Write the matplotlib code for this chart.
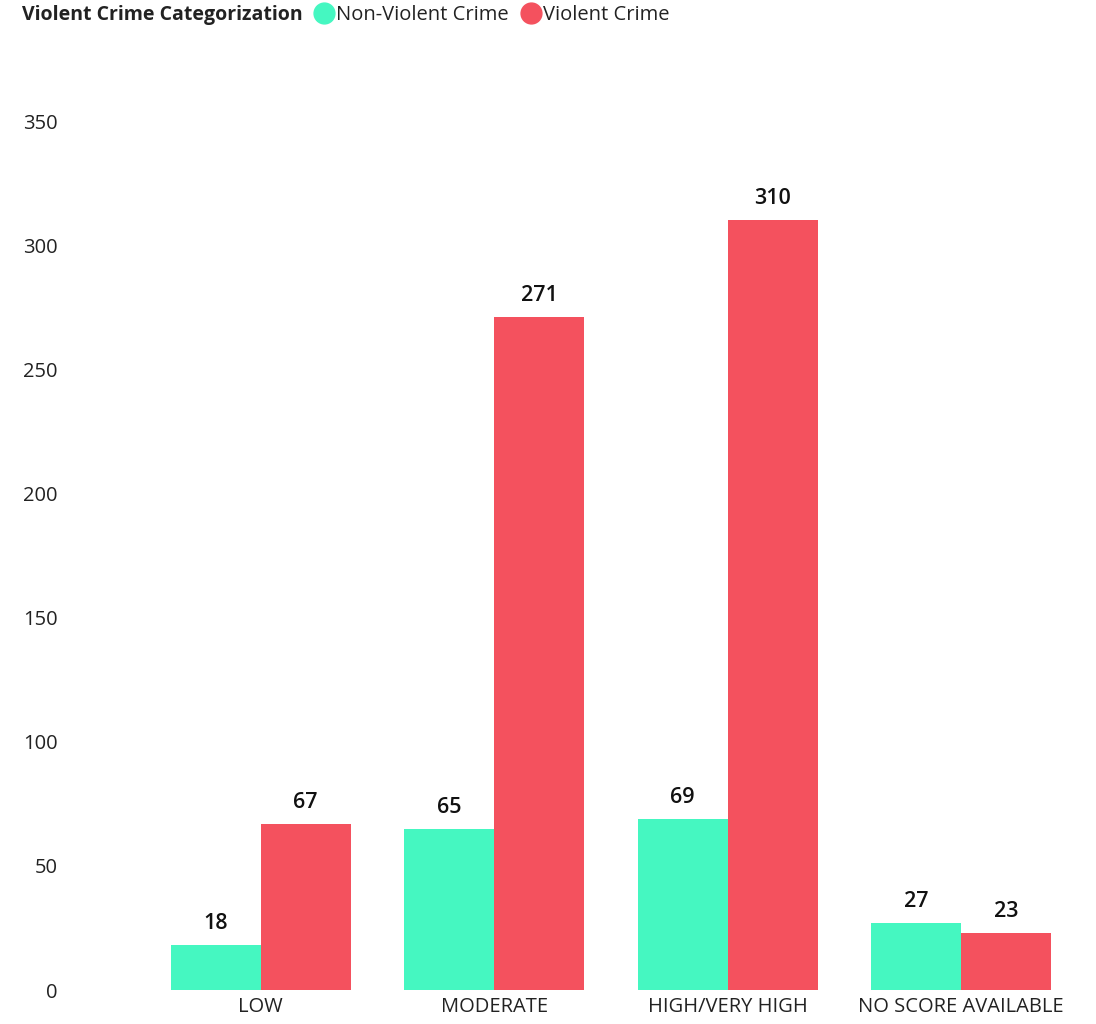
import matplotlib
matplotlib.use("Agg")
import matplotlib.pyplot as plt
from matplotlib.lines import Line2D
import numpy as np

# data
categories = ["LOW", "MODERATE", "HIGH/VERY HIGH", "NO SCORE AVAILABLE"]
non_violent = [18, 65, 69, 27]
violent = [67, 271, 310, 23]
series_names = ["Non-Violent Crime", "Violent Crime"]
y_ticks = [0, 50, 100, 150, 200, 250, 300, 350]

GREEN = "#45F7C1"
RED = "#F4515E"

plt.rcParams['font.family'] = ['Open Sans', 'DejaVu Sans']

W, H = 1096, 1024
fig = plt.figure(figsize=(W / 100, H / 100), dpi=100)
ax = fig.add_axes([144 / W, 34 / H, (1078 - 144) / W, (990 - 121) / H])

x = np.arange(len(categories))
bw = 0.385
b1 = ax.bar(x - bw / 2, non_violent, bw, color=GREEN)
b2 = ax.bar(x + bw / 2, violent, bw, color=RED)

for bars in (b1, b2):
    for rect in bars:
        h = rect.get_height()
        ax.annotate(f"{h:.0f}", (rect.get_x() + rect.get_width() / 2, h),
                    xytext=(0, 8), textcoords="offset points",
                    ha="center", va="bottom", fontsize=15.5,
                    fontweight="semibold", color="#111111", clip_on=False)

ax.set_xlim(-0.5, len(categories) - 0.5)
ax.set_ylim(0, 350)
ax.set_yticks(y_ticks)
ax.set_xticks(x)
ax.set_xticklabels(categories)
for s in ax.spines.values():
    s.set_visible(False)
ax.tick_params(axis="both", length=0, labelsize=14.5, labelcolor="#222222")
ax.tick_params(axis="y", pad=62)
ax.tick_params(axis="x", pad=5)

# legend row at the top
fig.text(22 / W, 1 - 15 / H, "Violent Crime Categorization", fontsize=14,
         fontweight="bold", ha="left", va="center", color="#222222")
handles = [Line2D([], [], marker="o", linestyle="", markersize=15,
                  markerfacecolor=c, markeredgecolor=c) for c in (GREEN, RED)]
fig.legend(handles, series_names, loc="center left",
           bbox_to_anchor=(312 / W, 1 - 15 / H), ncol=2, frameon=False,
           fontsize=14.5, handletextpad=0.0, columnspacing=0.5,
           borderaxespad=0, borderpad=0, handlelength=1.2,
           labelcolor="#222222")

fig.savefig("out.png", dpi=100)
